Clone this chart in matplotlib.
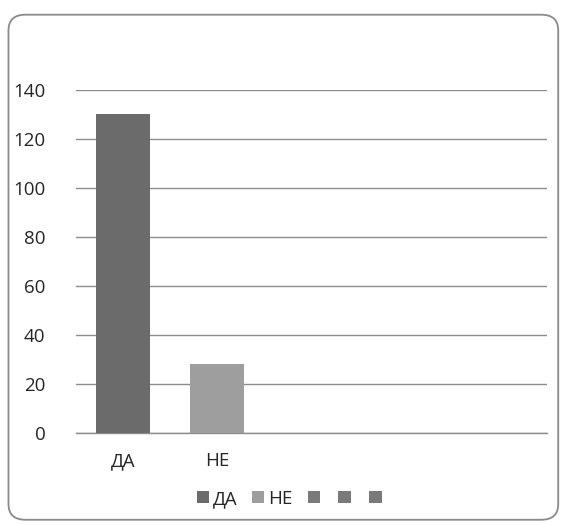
import matplotlib.pyplot as plt
from matplotlib.patches import FancyBboxPatch, Patch

plt.rcParams["font.family"] = ["Open Sans", "DejaVu Sans"]

# Survey answers (Excel-style chart with five category slots)
categories = ["ДА", "НЕ", "", "", ""]
answers = [130, 28, 0, 0, 0]
legend_labels = ["ДА", "НЕ", "", "", ""]
yticks = [0, 20, 40, 60, 80, 100, 120, 140]

bar_colors = ["#6b6b6b", "#9e9e9e", "#7a7a7a", "#7a7a7a", "#7a7a7a"]
text_color = "#262626"

fig = plt.figure(figsize=(5.65, 5.25), dpi=100)
fig.patch.set_facecolor("white")

# rounded chart-area border
frame = FancyBboxPatch((0.015, 0.010), 0.973, 0.962,
                       boxstyle="round,pad=0,rounding_size=0.03",
                       transform=fig.transFigure, facecolor="none",
                       edgecolor="#8a8a8a", linewidth=1.3)
fig.patches.append(frame)

ax = fig.add_axes([0.1345, 0.1752, 0.8335, 0.6534])
x = range(len(categories))
ax.bar(x, answers, width=0.575, color=bar_colors, zorder=3)

ax.set_xlim(-0.5, len(categories) - 0.5)
ax.set_ylim(0, 140)
ax.set_yticks(yticks)
ax.set_xticks(list(x))
ax.set_xticklabels(categories)
ax.tick_params(axis="both", length=0, labelsize=13.5, colors=text_color)
ax.tick_params(axis="y", pad=22)
ax.tick_params(axis="x", pad=14)

ax.grid(axis="y", color="#8c8c8c", linewidth=1.0, zorder=0)
for side in ["top", "right", "left"]:
    ax.spines[side].set_visible(False)
ax.spines["bottom"].set_color("#8c8c8c")
ax.spines["bottom"].set_linewidth(1.0)

handles = [Patch(facecolor=c, edgecolor="none") for c in bar_colors]
fig.legend(handles, legend_labels, loc="center", ncol=5,
           bbox_to_anchor=(0.515, 0.05), frameon=False, fontsize=13.5,
           handlelength=0.65, handleheight=0.65, handletextpad=0.2,
           columnspacing=0.8, labelcolor=text_color)

fig.savefig("out.png", dpi=100)
